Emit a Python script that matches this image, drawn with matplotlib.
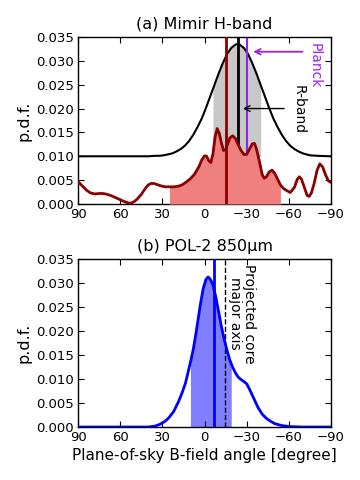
import matplotlib
matplotlib.use("Agg")
import matplotlib.pyplot as plt
import numpy as np

# ---------------- data ----------------
# (a) Mimir H-band: red KDE curve
red_ang = [90, 87, 84, 81, 78, 75, 72, 69, 66, 63, 60, 57, 54, 52, 50, 48, 45, 42, 40, 38,
           36, 34, 31, 28, 25, 22, 19, 16, 13, 10, 7, 4, 2, 0, -1.5, -3, -4.5, -6, -7.5, -9,
           -10.5, -12, -13.5, -15, -16.5, -18, -20, -22, -24, -26, -28, -30, -32, -34, -35.5,
           -37, -39, -41, -42.5, -44, -46, -48, -50, -52, -54, -56, -58, -61, -64, -66, -67.5,
           -69, -71, -73, -74.5, -76, -78, -80, -82, -84, -86, -88, -90]
red_pdf = [0.0047, 0.0038, 0.0029, 0.0023, 0.0021, 0.0022, 0.0022, 0.0020, 0.0017, 0.0013,
           0.0009, 0.0005, 0.0002, 0.0002, 0.0005, 0.0010, 0.0020, 0.0033, 0.0040, 0.0043,
           0.0043, 0.0041, 0.0038, 0.0036, 0.0036, 0.0036, 0.0037, 0.0040, 0.0046, 0.0053,
           0.0063, 0.0078, 0.0092, 0.0101, 0.0100, 0.0091, 0.0087, 0.0105, 0.0140, 0.0158,
           0.0148, 0.0128, 0.0112, 0.0114, 0.0126, 0.0138, 0.0143, 0.0137, 0.0124, 0.0112,
           0.0104, 0.0104, 0.0115, 0.0126, 0.0127, 0.0115, 0.0090, 0.0062, 0.0054, 0.0057,
           0.0067, 0.0071, 0.0064, 0.0052, 0.0040, 0.0033, 0.0029, 0.0024, 0.0035, 0.0052,
           0.0057, 0.0052, 0.0035, 0.0018, 0.0016, 0.0023, 0.0043, 0.0070, 0.0084, 0.0078,
           0.0062, 0.0049, 0.0045]
red_range = [25, -54]

# (a) R-band curve (black), offset on 0.010
rb_ang = [90, 40, 35, 32, 29, 26, 23, 20, 17, 14, 11, 8, 5, 2, -1, -4, -6, -7, -10, -13,
          -16, -19, -22, -23.5, -25, -28, -31, -34, -37, -40, -43, -46, -49, -52, -55,
          -58, -61, -64, -67, -70, -75, -80, -90]
rb_pdf = [0.0100, 0.0100, 0.0101, 0.0101, 0.0102, 0.0104, 0.0106, 0.0110, 0.0115, 0.0122,
          0.0132, 0.0145, 0.0161, 0.0179, 0.0201, 0.0225, 0.0241, 0.0249, 0.0273, 0.0295,
          0.0314, 0.0327, 0.0334, 0.0335, 0.0334, 0.0327, 0.0314, 0.0295, 0.0273, 0.0249,
          0.0225, 0.0201, 0.0179, 0.0161, 0.0145, 0.0132, 0.0122, 0.0115, 0.0110, 0.0106,
          0.0102, 0.0101, 0.0100]
rb_base = 0.010
rb_range = [-6, -40]

mimir_median = -15
rband_mean = -23.5
planck_angle = -30

# (b) POL-2 850um
pol_ang = [90, 60, 40, 35, 31.5, 28, 25.5, 22, 18.5, 16, 13.5, 10, 8, 6.5, 5, 3, 1, -1,
           -2.5, -4, -6, -8, -10, -12, -14, -16, -18, -19, -20, -22, -24, -26, -28, -30,
           -32, -35, -38, -41, -44, -47, -50, -55, -60, -70, -90]
pol_pdf = [0.0, 0.0, 0.0, 0.0002, 0.0006, 0.0012, 0.0019, 0.0032, 0.0053, 0.0071, 0.0092,
           0.0135, 0.0162, 0.0188, 0.0216, 0.0255, 0.0288, 0.0308, 0.0313, 0.0309, 0.0297,
           0.0272, 0.0241, 0.0210, 0.0183, 0.0160, 0.0140, 0.0132, 0.0125, 0.0113, 0.0104,
           0.0099, 0.0095, 0.0090, 0.0079, 0.0060, 0.0041, 0.0027, 0.0018, 0.0012, 0.0007,
           0.0003, 0.0001, 0.0, 0.0]
pol_range = [10, -19]
pol_mean = -7
core_axis = -14.5

xticks = [90, 60, 30, 0, -30, -60, -90]
yticks = [0.000, 0.005, 0.010, 0.015, 0.020, 0.025, 0.030, 0.035]

# ---------------- plotting ----------------
plt.rcParams['font.family'] = ['DejaVu Sans']
fig = plt.figure(figsize=(3.6, 4.8), dpi=100)
ax1 = fig.add_axes([0.2167, 0.575, 0.7028, 0.348])
ax2 = fig.add_axes([0.2167, 0.1104, 0.7028, 0.3494])

for ax in (ax1, ax2):
    ax.set_xlim(90, -90)
    ax.set_ylim(0, 0.035)
    ax.set_xticks(xticks)
    ax.set_xticklabels(['90', '60', '30', '0', '\u221230', '\u221260', '\u221290'])
    ax.set_yticks(yticks)
    ax.set_yticklabels(['%.3f' % v for v in yticks])
    ax.tick_params(direction='in', top=True, right=True, length=4, width=0.8,
                   labelsize=9.5, pad=3)
    for s in ax.spines.values():
        s.set_linewidth(1.0)
    ax.set_ylabel('p.d.f.', fontsize=11.5, labelpad=3)

# --- panel (a)
ra = np.array(red_ang); rp = np.array(red_pdf)
ba = np.array(rb_ang); bp = np.array(rb_pdf)

ax1.fill_between(ba, rb_base, bp, where=(ba <= rb_range[0]) & (ba >= rb_range[1]),
                 color='#c8c8c8', lw=0, zorder=1)
ax1.plot(ba, bp, color='black', lw=1.5, zorder=2)
ax1.axvline(rband_mean, color='black', lw=2, zorder=2)
ax1.axvline(planck_angle, color='#8a2be2', lw=1.5, zorder=2)
ax1.fill_between(ra, 0, rp, where=(ra <= red_range[0]) & (ra >= red_range[1]),
                 color='#f08080', lw=0, zorder=3)
ax1.plot(ra, rp, color='#8b0000', lw=2, zorder=4)
ax1.axvline(mimir_median, color='#8b0000', lw=2, zorder=5)

ax1.annotate('', xy=(-32.6, 0.0319), xytext=(-71.7, 0.0319),
             arrowprops=dict(arrowstyle='->', color='#a020f0', lw=1.3), zorder=6)
ax1.text(-78, 0.0338, 'Planck', rotation=-90, color='#a020f0', fontsize=10,
         ha='center', va='top', zorder=6)
ax1.annotate('', xy=(-25.4, 0.020), xytext=(-58.6, 0.020),
             arrowprops=dict(arrowstyle='->', color='black', lw=1.0), zorder=6)
ax1.text(-66.7, 0.0250, 'R-band', rotation=-90, color='black', fontsize=10,
         ha='center', va='top', zorder=6)
ax1.set_title('(a) Mimir H-band', fontsize=11.5, pad=6)

# --- panel (b)
pa = np.array(pol_ang); pp = np.array(pol_pdf)
ax2.fill_between(pa, 0, pp, where=(pa <= pol_range[0]) & (pa >= pol_range[1]),
                 color='#7f7fff', lw=0, zorder=1)
ax2.axvline(core_axis, color='black', lw=1.0, ls='--', zorder=2)
ax2.plot(pa, pp, color='#0000ff', lw=2, zorder=3)
ax2.axvline(pol_mean, color='#0000ff', lw=2, zorder=4)
ax2.text(-26.4, 0.0341, 'Projected core\nmajor axis', rotation=-90, fontsize=10,
         ha='center', va='top', linespacing=1.0, zorder=5)
ax2.set_title('(b) POL-2 850\u03bcm', fontsize=11.5, pad=6)
ax2.set_xlabel('Plane-of-sky B-field angle [degree]', fontsize=11, labelpad=3)

fig.savefig('out.png', dpi=100)
